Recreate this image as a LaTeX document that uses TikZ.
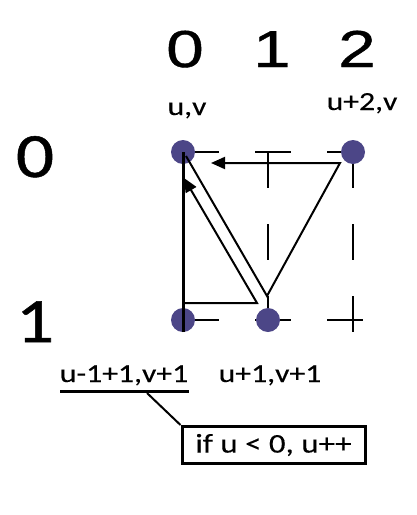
\documentclass[tikz,border=0pt]{standalone}
\usepackage{fontspec}
\usetikzlibrary{arrows.meta}
\newfontfamily\bigfont[FakeStretch=1.3,FakeBold=0.8]{Liberation Sans}
\newfontfamily\leftfont[FakeStretch=1.2,FakeBold=0.8]{Carlito}
\newfontfamily\calfont[FakeStretch=1.22,FakeBold=0.3]{Carlito}
\definecolor{dotc}{RGB}{76,70,135}
\tikzset{
  dot/.style={circle,fill=dotc,draw=none,minimum size=24pt,inner sep=0pt},
  gridline/.style={line width=2pt,dash pattern=on 36pt off 36pt},
  conn/.style={line width=2pt,line join=miter},
  arr/.style={-{Triangle[length=14pt,width=12pt]}},
  topnum/.style={anchor=base,inner sep=0pt,font=\bigfont\fontsize{52}{52}\selectfont},
  leftnum/.style={anchor=base,inner sep=0pt,font=\leftfont\fontsize{63}{63}\selectfont},
  lab/.style={anchor=base,inner sep=0pt,font=\calfont\fontsize{26}{26}\selectfont},
  callbox/.style={draw,line width=3pt,minimum width=183pt,minimum height=37pt,inner sep=0pt,font=\calfont\fontsize{27}{27}\selectfont}
}
\begin{document}
\begin{tikzpicture}[x=1pt,y=-1pt]
\useasboundingbox[fill=white] (0,0) rectangle (416,515);
% grid
\draw[gridline] (183,152) -- (363,152);
\draw[gridline] (183,320) -- (363,320);
\draw[gridline] (268,152) -- (268,332);
\draw[gridline] (353,152) -- (353,332);
% dots
\node[dot] (a) at (183,152) {};
\node[dot] (b) at (353,152) {};
\node[dot] (c) at (183,320) {};
\node[dot] (d) at (268,320) {};
% connectors
\coordinate (lb) at (183,332);
\draw[line width=3pt] (lb) -- (a.center);
\coordinate (p1) at (186,156);
\coordinate (p2) at (267,296);
\coordinate (p3) at (340,163);
\coordinate (p4) at (211,163);
\draw[conn,arr] (p1) -- (p2) -- (p3) -- (p4);
\coordinate (q1) at (183,303);
\coordinate (q2) at (257,303);
\coordinate (q3) at (184,178);
\draw[conn,arr] (q1) -- (q2) -- (q3);
% labels
\node[topnum] (t0) at (185,67) {0};
\node[topnum] (t1) at (272,67) {1};
\node[topnum] (t2) at (357,67) {2};
\node[leftnum] (l0) at (35,177) {0};
\node[leftnum] (l1) at (35,342) {1};
\node[lab] (uv) at (187,115) {u,v};
\node[lab] (u2v) at (362,110) {u+2,v};
\node[lab] (u11) at (124,382) {u-1+1,v+1};
\node[lab] (u1v1) at (270,382) {u+1,v+1};
% callout
\coordinate (ul1) at (60,391.5);
\coordinate (ul2) at (189,391.5);
\draw[line width=3pt] (ul1) -- (ul2);
\node[callbox] (box) at (273.5,445) {if u < 0, u++};
\coordinate (cl) at (147,393);
\draw[line width=2pt] (cl) -- (box.north west);
\end{tikzpicture}
\end{document}
